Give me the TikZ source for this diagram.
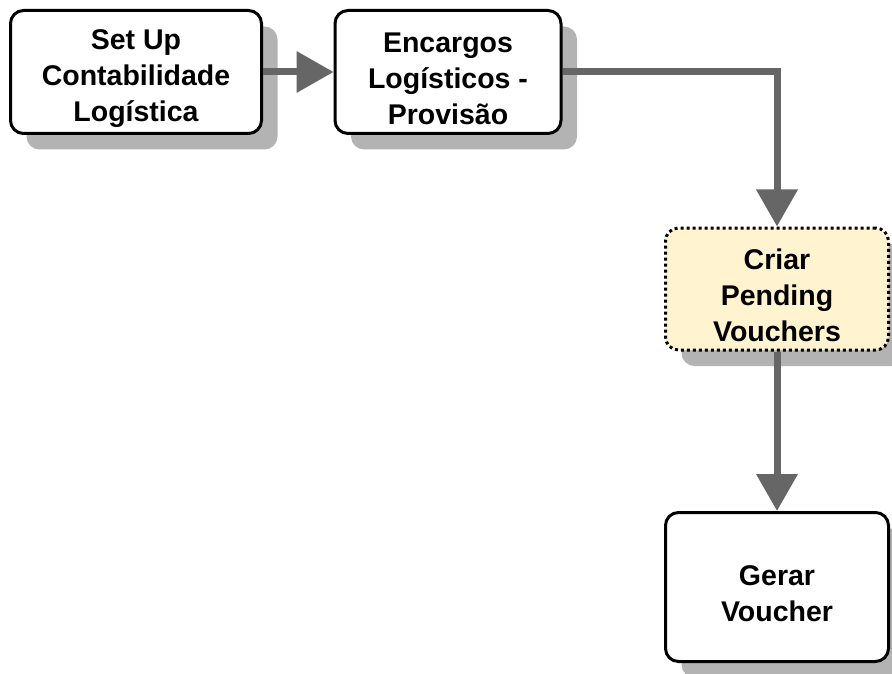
\documentclass[tikz,border=0pt]{standalone}
\usepackage{fontspec}
\setmainfont{Liberation Sans}
\usetikzlibrary{arrows.meta,shadows}
\definecolor{shadowgray}{HTML}{B3B3B3}
\definecolor{conngray}{HTML}{666666}
\definecolor{creamfill}{HTML}{FFF3D0}
\newcommand{\topgap}{\rule{0pt}{33pt}}
\tikzset{
  procbox/.style={draw=black, line width=3pt, rounded corners=13pt, fill=white,
    align=center, inner sep=0pt,
    font=\bfseries\fontsize{28.5}{36}\selectfont,
    drop shadow={shadow xshift=16pt, shadow yshift=-16pt, fill=shadowgray, opacity=1}},
  pendbox/.style={procbox, fill=creamfill, dash pattern=on 3pt off 3pt, line cap=butt},
  conn/.style={draw=conngray, line width=7pt,
    -{Triangle[length=37pt, width=40pt]}},
}
\begin{document}
\begin{tikzpicture}[x=1pt, y=-1pt]
\useasboundingbox (0,0) rectangle (892,674);
\node[procbox, minimum width=251pt, minimum height=123pt] (b1) at (136,72)
  {\topgap Set Up\\Contabilidade\\Logística};
\node[procbox, minimum width=226pt, minimum height=123pt] (b2) at (448,72)
  {\topgap Encargos\\Logísticos -\\Provisão};
\node[pendbox, minimum width=223pt, minimum height=122pt] (b3) at (777,289)
  {\topgap Criar\\Pending\\Vouchers};
\node[procbox, minimum width=223pt, minimum height=149pt] (b4) at (777,587)
  {\topgap Gerar\\Voucher};
\draw[conn] (b1.east) -- (b2.west);
\draw[conn] (b2.east) -| (b3.north);
\draw[conn] (b3.south) -- (b4.north);
\end{tikzpicture}
\end{document}
